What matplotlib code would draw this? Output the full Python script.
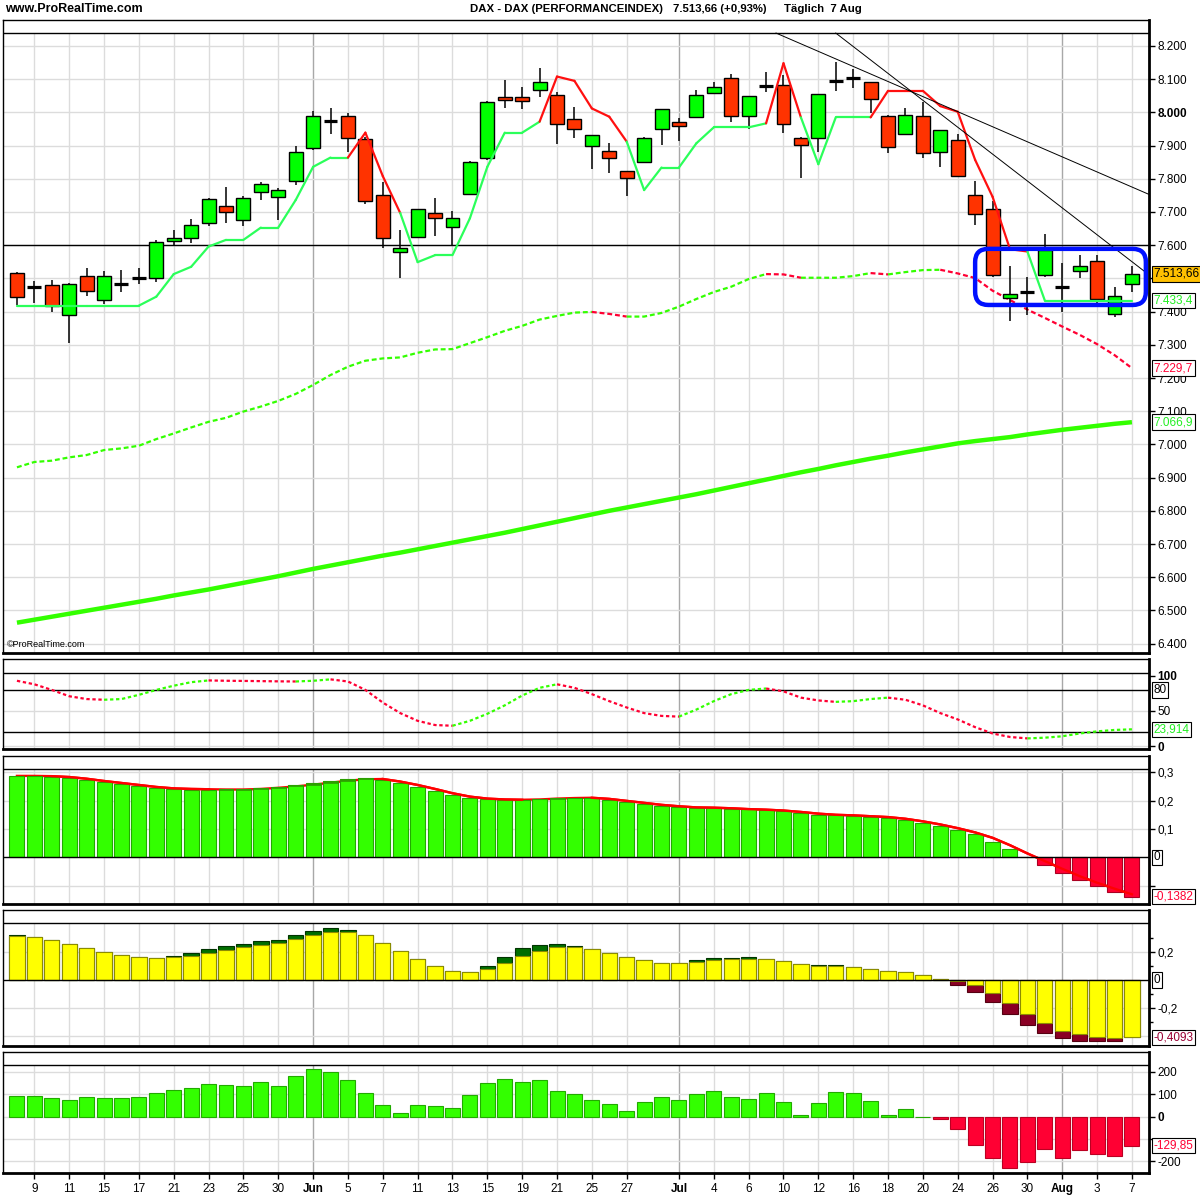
import numpy as np
import matplotlib
matplotlib.use("Agg")
import matplotlib.pyplot as plt
from matplotlib.patches import Rectangle, FancyBboxPatch
import matplotlib.transforms as mtransforms

plt.rcParams['font.family'] = ['Liberation Sans', 'DejaVu Sans']

# ---------------- data ----------------
opens = [7515, 7475, 7479, 7389, 7506, 7434, 7484, 7502, 7500, 7614,
         7623, 7666, 7718, 7675, 7759, 7744, 7792, 7892, 7975, 7988,
         7919, 7750, 7579, 7624, 7696, 7654, 7753, 7862, 8045, 8045,
         8067, 8051, 7980, 7898, 7883, 7823, 7850, 7949, 7970, 7985,
         8058, 8103, 7988, 8080, 8082, 7922, 7922, 8094, 8105, 8091,
         7988, 7934, 7988, 7880, 7916, 7750, 7708, 7441, 7460, 7509,
         7475, 7522, 7551, 7392, 7482]
highs = [7520, 7492, 7495, 7485, 7532, 7522, 7525, 7532, 7616, 7646,
         7679, 7741, 7775, 7747, 7790, 7771, 7899, 8004, 8012, 7997,
         7925, 7791, 7646, 7710, 7742, 7703, 7855, 8034, 8098, 8077,
         8134, 8061, 8017, 7933, 7907, 7823, 7926, 8009, 7982, 8067,
         8091, 8116, 8048, 8122, 8113, 7925, 8055, 8152, 8131, 8091,
         7992, 8014, 8032, 7946, 7934, 7793, 7733, 7537, 7504, 7633,
         7545, 7570, 7570, 7475, 7536]
lows = [7420, 7427, 7400, 7305, 7448, 7422, 7460, 7484, 7490, 7598,
        7608, 7659, 7668, 7659, 7736, 7676, 7780, 7888, 7935, 7880,
        7724, 7591, 7500, 7622, 7629, 7599, 7752, 7857, 8014, 8011,
        8047, 7906, 7924, 7830, 7818, 7749, 7850, 7903, 7915, 7985,
        8054, 7970, 7949, 8061, 7937, 7801, 7882, 8065, 8074, 7997,
        7879, 7934, 7864, 7836, 7808, 7660, 7505, 7373, 7389, 7505,
        7398, 7502, 7425, 7385, 7460]
closes = [7443, 7475, 7417, 7483, 7461, 7506, 7484, 7502, 7609, 7622,
          7660, 7738, 7699, 7741, 7784, 7765, 7882, 7988, 7975, 7922,
          7732, 7621, 7591, 7708, 7681, 7681, 7850, 8030, 8037, 8033,
          8091, 7964, 7949, 7931, 7862, 7801, 7922, 8009, 7958, 8051,
          8076, 7988, 8048, 8080, 7964, 7901, 8055, 8094, 8105, 8039,
          7896, 7991, 7877, 7946, 7808, 7693, 7509, 7452, 7460, 7585,
          7475, 7536, 7437, 7446, 7513.66]

# trailing stop line and its trend state (g = up, r = down)
stop_line = [7418, 7418, 7418, 7418, 7418, 7418, 7418, 7418, 7445, 7513,
             7535, 7596, 7616, 7616, 7653, 7653, 7736, 7836, 7864, 7864,
             7939, 7808, 7697, 7549, 7570, 7570, 7681, 7836, 7939, 7939,
             7972, 8108, 8095, 8012, 7987, 7912, 7766, 7834, 7834, 7907,
             7955, 7955, 7955, 7967, 8148, 7985, 7844, 7985, 7985, 7985,
             8065, 8065, 8065, 8019, 8002, 7857, 7746, 7588, 7581, 7433.4,
             7433.4, 7433.4, 7433.4, 7433.4, 7433.4]
stop_state = list("gggggggggggggggggggg" "rrr" "gggggggg" "rrrrr" "gggggggg"
                  "rr" "gggg" "rrrrrrrrr" "gggggg")

ma_mid = [6931, 6947, 6951, 6961, 6968, 6983, 6988, 6996, 7016, 7033,
          7051, 7068, 7080, 7099, 7114, 7131, 7152, 7179, 7209, 7234,
          7252, 7259, 7262, 7276, 7286, 7287, 7305, 7323, 7342, 7357,
          7376, 7387, 7397, 7399, 7393, 7385, 7385, 7396, 7415, 7438,
          7459, 7475, 7498, 7513, 7512, 7502, 7502, 7502, 7507, 7516,
          7512, 7519, 7525, 7526, 7515, 7501, 7463, 7435, 7406, 7381,
          7355, 7330, 7302, 7269, 7229.7]
ma_long = [6463, 6472, 6481, 6490, 6499, 6508, 6517, 6526, 6535, 6545,
           6554, 6563, 6573, 6583, 6593, 6603, 6614, 6625, 6635, 6645,
           6655, 6665, 6674, 6684, 6694, 6704, 6714, 6724, 6734, 6745,
           6756, 6767, 6778, 6789, 6800, 6810, 6820, 6830, 6840, 6850,
           6861, 6872, 6883, 6894, 6905, 6916, 6926, 6937, 6947, 6957,
           6966, 6976, 6985, 6994, 7003, 7010, 7016, 7022, 7030, 7037,
           7044, 7050, 7056, 7062, 7066.9]

level_line = 7600
trend1_x, trend1_y = [43.57, 64.98], [8239, 7753]
trend2_x, trend2_y = [47.0, 64.75], [8239, 7520]
box_x, box_y = [55.0, 64.8], [7420, 7589]

oscill = [93, 88, 80, 71, 67, 66, 67, 73, 80, 86,
          91, 93.5, 93, 92.8, 92.5, 92.2, 92, 93, 95, 92,
          80, 62, 47, 36, 30, 29, 36, 46, 58, 72,
          83, 88, 83, 74, 64, 55, 47, 43, 42, 52,
          64, 74, 80, 82, 78, 69, 65, 63, 64, 67,
          69, 66, 58, 47, 38, 27, 18, 13, 11, 12,
          14, 18, 21, 23, 23.914]

macd_hist = [0.286, 0.288, 0.284, 0.281, 0.272, 0.265, 0.258, 0.251, 0.244, 0.240,
             0.239, 0.239, 0.240, 0.240, 0.244, 0.249, 0.254, 0.261, 0.269, 0.276,
             0.279, 0.272, 0.261, 0.248, 0.233, 0.219, 0.209, 0.205, 0.203, 0.203,
             0.206, 0.210, 0.210, 0.209, 0.202, 0.195, 0.188, 0.182, 0.177, 0.174,
             0.174, 0.171, 0.169, 0.167, 0.162, 0.157, 0.151, 0.148, 0.147, 0.143,
             0.140, 0.132, 0.121, 0.111, 0.095, 0.081, 0.056, 0.028, 0.0, -0.027,
             -0.054, -0.080, -0.100, -0.121, -0.1382]
macd_signal = [0.287, 0.287, 0.286, 0.283, 0.277, 0.269, 0.262, 0.255, 0.248, 0.243,
               0.241, 0.240, 0.239, 0.239, 0.241, 0.245, 0.250, 0.256, 0.263, 0.270,
               0.275, 0.276, 0.267, 0.255, 0.241, 0.226, 0.214, 0.207, 0.204, 0.203,
               0.204, 0.207, 0.209, 0.210, 0.206, 0.199, 0.192, 0.185, 0.180, 0.176,
               0.175, 0.173, 0.170, 0.168, 0.165, 0.160, 0.154, 0.150, 0.148, 0.145,
               0.142, 0.136, 0.127, 0.116, 0.103, 0.088, 0.069, 0.043, 0.014, -0.013,
               -0.040, -0.066, -0.089, -0.110, -0.130]

osc_main = [0.314, 0.305, 0.283, 0.255, 0.226, 0.198, 0.176, 0.162, 0.155, 0.162,
            0.171, 0.190, 0.214, 0.233, 0.250, 0.262, 0.290, 0.321, 0.345, 0.340,
            0.319, 0.262, 0.205, 0.148, 0.098, 0.062, 0.055, 0.079, 0.119, 0.171,
            0.207, 0.233, 0.236, 0.219, 0.190, 0.162, 0.140, 0.121, 0.121, 0.129,
            0.143, 0.148, 0.152, 0.152, 0.133, 0.114, 0.100, 0.100, 0.093, 0.079,
            0.067, 0.055, 0.033, 0.007, -0.005, -0.036, -0.090, -0.162, -0.243, -0.310,
            -0.364, -0.388, -0.410, -0.417, -0.4093]
osc_outer = [0.321, 0.305, 0.283, 0.255, 0.226, 0.198, 0.176, 0.162, 0.155, 0.169,
             0.190, 0.219, 0.240, 0.255, 0.276, 0.283, 0.321, 0.348, 0.369, 0.355,
             0.319, 0.262, 0.205, 0.148, 0.098, 0.062, 0.055, 0.102, 0.162, 0.226,
             0.250, 0.260, 0.245, 0.219, 0.190, 0.162, 0.140, 0.121, 0.121, 0.140,
             0.155, 0.157, 0.162, 0.152, 0.133, 0.114, 0.105, 0.105, 0.093, 0.079,
             0.067, 0.055, 0.033, 0.007, -0.033, -0.083, -0.155, -0.245, -0.321, -0.381,
             -0.417, -0.433, -0.433, -0.433, -0.4093]

momentum = [93, 93, 84, 75, 88, 84, 84, 88, 107, 120,
            129, 148, 143, 139, 157, 139, 180, 212, 198, 166,
            107, 52, 15, 52, 47, 38, 97, 152, 170, 157,
            166, 116, 102, 75, 56, 24, 65, 88, 75, 102,
            116, 88, 79, 107, 65, 6, 61, 111, 107, 70,
            6, 33, 0, -12, -55, -128, -187, -228, -205, -146,
            -187, -151, -169, -174, -129.85]

label_idx = [1, 3, 5, 7, 9, 11, 13, 15, 17, 19, 21, 23, 25, 27, 29, 31, 33, 35,
             38, 40, 42, 44, 46, 48, 50, 52, 54, 56, 58, 60, 62, 64]
labels = ['9', '11', '15', '17', '21', '23', '25', '30', 'Jun', '5', '7', '11',
          '13', '15', '19', '21', '25', '27', 'Jul', '4', '6', '10', '12', '16',
          '18', '20', '24', '26', '30', 'Aug', '3', '7']
months = ['Jun', 'Jul', 'Aug']

# ---------------- layout ----------------
W = H = 1200
XL, XR = 3, 1149
X0, X1 = -0.80, 64.98
n = len(closes)
idx = np.arange(n)

GREEN = '#00ff00'
RED = '#ff3300'
LGREEN = '#33ff00'
PINK = '#ff0033'
GRID = '#dcdcdc'

fig = plt.figure(figsize=(12, 12), dpi=100)
fig.patch.set_facecolor('white')


def make_panel(top, bottom, ylo, yhi, header):
    ax = fig.add_axes([XL / W, 1 - bottom / H, (XR - XL) / W, (bottom - top) / H])
    ax.set_xlim(X0, X1)
    ax.set_ylim(ylo, yhi)
    ax.spines['left'].set_linewidth(1)
    ax.spines['top'].set_linewidth(1)
    ax.spines['right'].set_linewidth(2)
    ax.spines['bottom'].set_linewidth(2)
    ax.yaxis.tick_right()
    ax.tick_params(axis='y', direction='out', length=4, width=1, labelsize=8.5, pad=2)
    ax.tick_params(axis='x', bottom=False, labelbottom=False)
    for i, lab in zip(label_idx, labels):
        c = '#a8a8a8' if lab in months else GRID
        ax.vlines(i, ylo, header, color=c, lw=1, zorder=0)
    ax.axhline(header, color='black', lw=1, zorder=6)
    return ax


def value_box(ax, y, text, color, fc='white'):
    tr = mtransforms.blended_transform_factory(ax.transAxes, ax.transData)
    ax.text(1.004, y, text, transform=tr, color=color, fontsize=8.5,
            ha='left', va='center', zorder=10,
            bbox=dict(boxstyle='square,pad=0.15', fc=fc, ec='black', lw=0.8))


def colored_runs(ax, vals, up, down, **kw):
    # group consecutive segments by rising / falling colour
    seg_col = [up if vals[i] >= vals[i - 1] else down for i in range(1, len(vals))]
    start = 0
    for k in range(1, len(seg_col) + 1):
        if k == len(seg_col) or seg_col[k] != seg_col[start]:
            ax.plot(idx[start:k + 1], vals[start:k + 1], color=seg_col[start], **kw)
            start = k


# ---------------- price panel ----------------
ax1 = make_panel(20, 653, 6371.7, 8278.3, 8239.2)
pticks = list(range(6400, 8201, 100))
ax1.hlines(pticks, X0, X1, color=GRID, lw=1, zorder=0)
ax1.set_yticks(pticks)
# 7.500 sits under the last-price box, as in the original
tl = ax1.set_yticklabels(['' if p == 7500 else f"{p:,}".replace(',', '.') for p in pticks])
for t, p in zip(tl, pticks):
    if p == 8000:
        t.set_fontweight('bold')

ax1.axhline(level_line, color='black', lw=1, zorder=2)
ax1.plot(idx, ma_long, color=LGREEN, lw=3.2, zorder=2, solid_capstyle='butt')
colored_runs(ax1, ma_mid, LGREEN, PINK, lw=1.6, ls=(0, (2.2, 1.3)), zorder=2)

for i in range(1, n):
    col = '#2bff5a' if stop_state[i] == 'g' else '#ff1010'
    ax1.plot([i - 1, i], [stop_line[i - 1], stop_line[i]], color=col, lw=1.6,
             zorder=5, solid_capstyle='round')

for i in range(n):
    o, h, l, c = opens[i], highs[i], lows[i], closes[i]
    ax1.vlines(i, l, h, color='black', lw=1.1, zorder=3)
    if c == o:
        ax1.hlines(o, i - 0.4, i + 0.4, color='black', lw=2.3, zorder=4)
    else:
        ax1.add_patch(Rectangle((i - 0.4, min(o, c)), 0.8, abs(c - o),
                                fc=GREEN if c > o else RED, ec='black', lw=1, zorder=4))

ax1.plot(trend1_x, trend1_y, color='black', lw=0.7, zorder=6)
ax1.plot(trend2_x, trend2_y, color='black', lw=0.7, zorder=6)

# blue rounded highlight box (rounded in figure space)
inv = fig.transFigure.inverted()
(fx0, fy0) = inv.transform(ax1.transData.transform((box_x[0], box_y[0])))
(fx1, fy1) = inv.transform(ax1.transData.transform((box_x[1], box_y[1])))
fig.add_artist(FancyBboxPatch((fx0, fy0), fx1 - fx0, fy1 - fy0,
                              boxstyle='round,pad=0,rounding_size=0.011',
                              transform=fig.transFigure, fill=False,
                              ec='#0010ff', lw=3.2, zorder=20))

value_box(ax1, closes[-1], '7.513,66', 'black', fc='#ffc000')
value_box(ax1, stop_line[-1], '7.433,4', '#22ee22')
value_box(ax1, ma_mid[-1], '7.229,7', PINK)
value_box(ax1, ma_long[-1], '7.066,9', '#22ee22')
ax1.text(0.003, 0.006, '©ProRealTime.com', transform=ax1.transAxes, fontsize=6.5,
         ha='left', va='bottom')

# ---------------- oscillator panel ----------------
ax2 = make_panel(659, 749, -4.1, 124, 104.5)
ax2.hlines([0, 50], X0, X1, color=GRID, lw=1, zorder=0)
ax2.hlines([20, 80], X0, X1, color='black', lw=1, zorder=1)
ax2.set_yticks([0, 50, 100])
tl = ax2.set_yticklabels(['0', '50', '100'])
tl[0].set_fontweight('bold')
tl[2].set_fontweight('bold')
colored_runs(ax2, oscill, LGREEN, PINK, lw=1.6, ls=(0, (1.5, 1.2)), zorder=3)
value_box(ax2, 80, '80', 'black')
value_box(ax2, oscill[-1], '23,914', '#22ee22')

# ---------------- histogram panel ----------------
ax3 = make_panel(756, 904, -0.164, 0.357, 0.310)
ax3.hlines([-0.1, 0.1, 0.2, 0.3], X0, X1, color=GRID, lw=1, zorder=0)
ax3.set_yticks([-0.1, 0.1, 0.2, 0.3])
ax3.set_yticklabels(['', '0,1', '0,2', '0,3'])
ax3.plot(idx, macd_signal, color='#ff0000', lw=1.7, zorder=1)
for i in range(n):
    v, s = macd_hist[i], macd_signal[i]
    if v >= 0:
        ax3.add_patch(Rectangle((i - 0.43, 0), 0.86, v, fc=LGREEN, ec='#22aa00', lw=0.8, zorder=2))
        if v > s:
            ax3.add_patch(Rectangle((i - 0.43, s), 0.86, v - s, fc='#2e9e00', ec='#2e9e00', lw=0.5, zorder=2))
    else:
        ax3.add_patch(Rectangle((i - 0.43, v), 0.86, -v, fc=PINK, ec='#aa0022', lw=0.8, zorder=2))
# the signal line stays visible where it runs above the bars
sig_above = np.array(macd_signal) >= np.array(macd_hist)
ax3.plot(idx, np.where(sig_above | (np.array(macd_hist) < 0), macd_signal, np.nan),
         color='#ff0000', lw=1.7, zorder=3)
ax3.axhline(0, color='black', lw=1, zorder=3)
value_box(ax3, 0, '0', 'black')
value_box(ax3, macd_hist[-1], '-0,1382', PINK)

# ---------------- yellow panel ----------------
ax4 = make_panel(910, 1046, -0.471, 0.50, 0.405)
ax4.hlines([0.2, -0.2, -0.4], X0, X1, color=GRID, lw=1, zorder=0)
ax4.set_yticks([-0.2, 0.2])
ax4.set_yticklabels(['-0,2', '0,2'])
ax4.set_yticks([-0.3, -0.1, 0.1, 0.3], minor=True)
ax4.tick_params(axis='y', which='minor', direction='out', length=3, width=1)
for i in range(n):
    d, y = osc_outer[i], osc_main[i]
    ax4.add_patch(Rectangle((i - 0.44, 0), 0.88, d, fc='#006e00' if d >= 0 else '#8a0024',
                            ec='#003300' if d >= 0 else '#550011', lw=0.8, zorder=2))
    ax4.add_patch(Rectangle((i - 0.44, 0), 0.88, y, fc='#ffff00', ec='#8c8c00', lw=0.8, zorder=3))
ax4.axhline(0, color='black', lw=1, zorder=4)
value_box(ax4, 0, '0', 'black')
value_box(ax4, osc_main[-1], '-0,4093', '#990033')

# ---------------- momentum panel ----------------
ax5 = make_panel(1052, 1173, -252, 289, 232)
ax5.hlines([-200, -100, 0, 100, 200], X0, X1, color=GRID, lw=1, zorder=0)
ax5.set_yticks([-200, -100, 0, 100, 200])
tl = ax5.set_yticklabels(['-200', '', '0', '100', '200'])
tl[2].set_fontweight('bold')
for i in range(n):
    v = momentum[i]
    if v >= 0:
        ax5.add_patch(Rectangle((i - 0.43, 0), 0.86, v, fc=LGREEN, ec='#22aa00', lw=0.8, zorder=2))
    else:
        ax5.add_patch(Rectangle((i - 0.43, v), 0.86, -v, fc=PINK, ec='#bb0022', lw=0.8, zorder=2))
value_box(ax5, momentum[-1], '-129,85', PINK)

ax5.tick_params(axis='x', bottom=True, labelbottom=True, direction='out', length=4,
                width=1, labelsize=8.5, pad=3)
ax5.set_xticks(label_idx)
xl = ax5.set_xticklabels(labels)
for t in xl:
    if t.get_text() in months:
        t.set_fontweight('bold')

# ---------------- header texts ----------------
fig.text(5 / W, 1 - 9 / H, 'www.ProRealTime.com', fontsize=9, fontweight='bold',
         ha='left', va='center')
fig.text(470 / W, 1 - 9 / H, 'DAX - DAX (PERFORMANCEINDEX)', fontsize=8.2, fontweight='bold',
         ha='left', va='center')
fig.text(673 / W, 1 - 9 / H, '7.513,66 (+0,93%)', fontsize=8.2, fontweight='bold',
         ha='left', va='center')
fig.text(784 / W, 1 - 9 / H, 'Täglich  7 Aug', fontsize=8.2, fontweight='bold',
         ha='left', va='center')

fig.savefig('out.png', dpi=100, facecolor='white')
